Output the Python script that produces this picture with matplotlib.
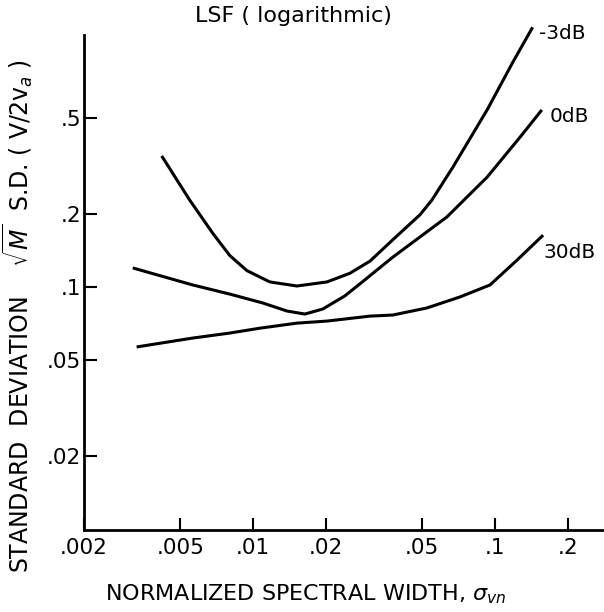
import numpy as np
import matplotlib
matplotlib.use("Agg")
from matplotlib import pyplot as plt

# (log-log)
x_m3 = [0.00419, 0.00547, 0.00681, 0.00801, 0.00942, 0.01172, 0.01517, 0.0202,
        0.0251, 0.0304, 0.0378, 0.0489, 0.0548, 0.0670, 0.0927, 0.1186, 0.143]
y_m3 = [0.349, 0.229, 0.167, 0.135, 0.117, 0.105, 0.101, 0.105,
        0.114, 0.128, 0.157, 0.199, 0.229, 0.314, 0.541, 0.855, 1.19]

x_0 = [0.00318, 0.00563, 0.00801, 0.01097, 0.01378, 0.01636, 0.0194, 0.0239,
       0.0276, 0.0378, 0.0632, 0.0927, 0.127, 0.156]
y_0 = [0.120, 0.102, 0.0935, 0.0859, 0.0796, 0.0773, 0.0811, 0.0918,
       0.103, 0.133, 0.195, 0.285, 0.418, 0.541]

x_30 = [0.00330, 0.00563, 0.00801, 0.0107, 0.01517, 0.0202, 0.0304, 0.0378,
        0.0522, 0.0716, 0.0953, 0.123, 0.158]
y_30 = [0.0565, 0.0615, 0.0645, 0.0676, 0.0709, 0.0723, 0.0758, 0.0766,
        0.0819, 0.0910, 0.102, 0.129, 0.164]

series = [(x_m3, y_m3, "-3dB"), (x_0, y_0, "0dB"), (x_30, y_30, "30dB")]

xticks = [0.002, 0.005, 0.01, 0.02, 0.05, 0.1, 0.2]
xticklabels = [".002", ".005", ".01", ".02", ".05", ".1", ".2"]
yticks = [0.02, 0.05, 0.1, 0.2, 0.5]
yticklabels = [".02", ".05", ".1", ".2", ".5"]

plt.rcParams["font.family"] = ["DejaVu Sans"]

fig = plt.figure(figsize=(6.04, 6.12), dpi=100)
ax = fig.add_axes([84 / 604, 1 - 530 / 612, 1 - 84 / 604, (530 - 35) / 612])

# label offsets in pixels from the end of each curve
offsets = {"-3dB": (6, -6), "0dB": (8, -7), "30dB": (0, -17)}
for xs, ys, name in series:
    ax.plot(xs, ys, color="black", lw=2.2, solid_joinstyle="round",
            solid_capstyle="butt", clip_on=False)
    ax.annotate(name, (xs[-1], ys[-1]), xytext=offsets[name],
                textcoords="offset pixels", ha="left", va="center",
                fontsize=14.5, annotation_clip=False)

ax.set_xscale("log")
ax.set_yscale("log")
ax.set_xlim(0.002, 0.282)
ax.set_ylim(0.00987, 1.105)

ax.xaxis.set_major_locator(matplotlib.ticker.FixedLocator(xticks))
ax.yaxis.set_major_locator(matplotlib.ticker.FixedLocator(yticks))
ax.xaxis.set_minor_locator(matplotlib.ticker.NullLocator())
ax.yaxis.set_minor_locator(matplotlib.ticker.NullLocator())
ax.set_xticklabels(xticklabels)
ax.set_yticklabels(yticklabels)
ax.tick_params(direction="in", length=9, width=1.5, labelsize=15.5)
ax.tick_params(axis="y", pad=2)
ax.tick_params(axis="x", pad=6)

for s in ["top", "right"]:
    ax.spines[s].set_visible(False)
for s in ["left", "bottom"]:
    ax.spines[s].set_linewidth(2)

fig.text(293 / 604, 1 - 16 / 612, "LSF ( logarithmic)", ha="center", va="center",
         fontsize=16)
fig.text(306 / 604, 1 - 594 / 612, r"NORMALIZED SPECTRAL WIDTH, $\sigma_{vn}$",
         ha="center", va="center", fontsize=16)
fig.text(18 / 604, 1 - 316 / 612,
         r"STANDARD  DEVIATION    $\sqrt{M}$  S.D. ( V/2v$_a$ )",
         ha="center", va="center", rotation=90, fontsize=17)

fig.savefig("out.png", dpi=100)
